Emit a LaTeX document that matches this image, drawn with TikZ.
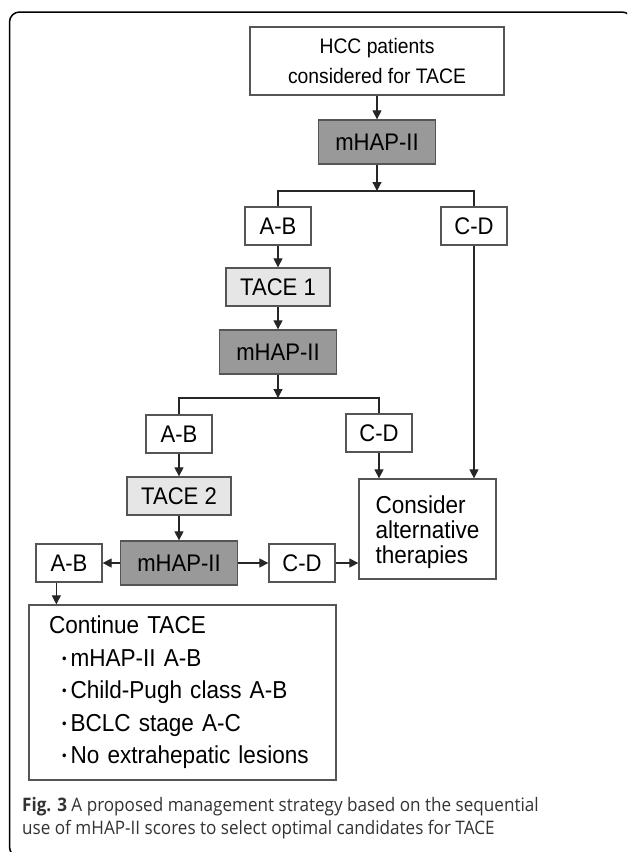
\documentclass[tikz,border=0pt]{standalone}
\usepackage{fontspec}
\setmainfont{Liberation Sans}
\newfontfamily\diafont{Liberation Sans}[FakeStretch=0.92]
\newfontfamily\capfont{Open Sans}[FakeStretch=0.92]
\usetikzlibrary{arrows.meta}
\definecolor{scorefill}{HTML}{999999}
\definecolor{tacefill}{HTML}{E6E6E6}
\definecolor{boxline}{HTML}{555555}
\definecolor{captext}{HTML}{333333}

\begin{document}
\begin{tikzpicture}[x=1pt,y=-1pt,
    box/.style={draw=boxline, line width=1.3pt, inner sep=0pt, align=center, fill=white,
        font=\diafont\fontsize{24}{26}\selectfont},
    grade/.style={box, minimum width=66pt, minimum height=38pt},
    score/.style={box, fill=scorefill, minimum width=117pt, minimum height=44pt},
    tace/.style={box, fill=tacefill, minimum width=104pt, minimum height=38pt},
    arr/.style={-{Triangle[length=9pt,width=9pt]}, line width=1.2pt, draw=black!85},
    link/.style={line width=1.2pt, draw=black!85}]
    \clip (0,0) rectangle (627,852);
    \draw[line width=1.5pt, rounded corners=10pt] (9.5,12) rectangle (632,857);
    \node[box, minimum width=254pt, minimum height=68pt, font=\diafont\fontsize{21}{30}\selectfont] (hcc) at (377,61) {HCC patients\\considered for TACE};
    \node[score] (mhap1) at (377,142) {mHAP-II};
    \node[grade] (ab1) at (278,226) {A-B};
    \node[grade] (cd1) at (474,226) {C-D};
    \node[tace] (tace1) at (278,287) {TACE 1};
    \node[score] (mhap2) at (278,352) {mHAP-II};
    \node[grade] (ab2) at (179,434) {A-B};
    \node[grade] (cd2) at (379,433) {C-D};
    \node[tace] (tace2) at (179,496) {TACE 2};
    \node[score] (mhap3) at (179,563) {mHAP-II};
    \node[grade] (ab3) at (69,563) {A-B};
    \node[grade] (cd3) at (302,563) {C-D};
    \node[box, align=left, minimum width=137pt, minimum height=100pt, font=\diafont\fontsize{24.5}{25}\selectfont] (consider) at (427.5,529) {\rule{0pt}{25pt}Consider\\alternative\\therapies};
    \node[box, align=left, inner xsep=20pt, text width=267pt, minimum height=175pt, font=\diafont\fontsize{24.5}{32.5}\selectfont] (cont) at (182.5,692.5) {Continue TACE\\
        \hspace*{13pt}\raisebox{3pt}{\fontsize{14}{14}\selectfont•}\,mHAP-II A-B\\
        \hspace*{13pt}\raisebox{3pt}{\fontsize{14}{14}\selectfont•}\,Child-Pugh class A-B\\
        \hspace*{13pt}\raisebox{3pt}{\fontsize{14}{14}\selectfont•}\,BCLC stage A-C\\
        \hspace*{13pt}\raisebox{3pt}{\fontsize{14}{14}\selectfont•}\,No extrahepatic lesions};
    \coordinate (j1) at (377,191);
    \coordinate (j2) at (278,398);
    \draw[arr] (hcc) -- (mhap1);
    \draw[arr] (mhap1) -- (j1);
    \draw[link] (ab1.north) -- (ab1.north |- j1) -- (cd1.north |- j1) -- (cd1.north);
    \draw[arr] (ab1) -- (tace1);
    \draw[arr] (tace1) -- (mhap2);
    \draw[arr] (mhap2) -- (j2);
    \draw[link] (ab2.north) -- (ab2.north |- j2) -- (cd2.north |- j2) -- (cd2.north);
    \draw[arr] (ab2) -- (tace2);
    \draw[arr] (tace2) -- (mhap3);
    \draw[arr] (mhap3) -- (ab3);
    \draw[arr] (mhap3) -- (cd3);
    \draw[arr] (cd3) -- (cd3 -| consider.west);
    \draw[arr] (cd2) -- (cd2 |- consider.north);
    \draw[arr] (cd1) -- (cd1 |- consider.north);
    \draw[arr] ([xshift=21pt]ab3.south west) -- ([xshift=21pt]ab3.south west |- cont.north);
    \node[anchor=base west, align=left, inner sep=0pt, text=captext, font=\capfont\fontsize{18.6}{22.5}\selectfont] (caption) at (22,834) {\textbf{Fig. 3} A proposed management strategy based on the sequential\\use of mHAP-II scores to select optimal candidates for TACE};
\end{tikzpicture}
\end{document}
